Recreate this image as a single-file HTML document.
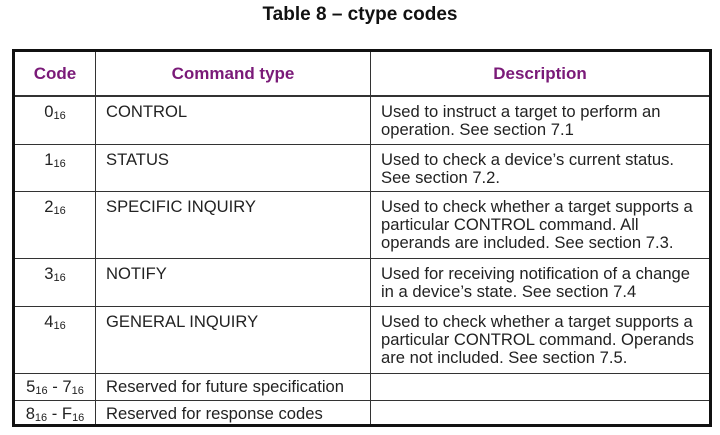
<!DOCTYPE html>
<html><head><style>
body{margin:0;width:720px;height:435px;background:#fff;font-family:"Liberation Sans",Arial,sans-serif;position:relative;overflow:hidden;color:#222}
.t{position:absolute;top:4px;left:0;width:720px;text-align:center;font-weight:bold;font-size:19px;color:#111}
table{position:absolute;left:12px;top:49px;border-collapse:collapse;border:3px solid #111;font-size:16.6px}
td,th{border:1px solid #333;padding:0;vertical-align:top;line-height:18px}
th{color:#7a1a78;font-size:17px;height:43px;vertical-align:middle;border-bottom:2px solid #333}
td.c{text-align:center;padding-top:6px}
td.n{padding:6px 0 0 10px}
td.d{padding:6px 0 0 10px}
sub{font-size:11px;vertical-align:-2px;line-height:0}
</style></head><body>
<div class="t">Table 8 – ctype codes</div>
<table>
<colgroup><col style="width:82px"><col style="width:275px"><col style="width:340px"></colgroup>
<tr><th>Code</th><th>Command type</th><th>Description</th></tr>
<tr style="height:48px"><td class="c">0<sub>16</sub></td><td class="n">CONTROL</td><td class="d">Used to instruct a target to perform an<br>operation. See section 7.1</td></tr>
<tr style="height:47px"><td class="c">1<sub>16</sub></td><td class="n">STATUS</td><td class="d">Used to check a device’s current status.<br>See section 7.2.</td></tr>
<tr style="height:67px"><td class="c">2<sub>16</sub></td><td class="n">SPECIFIC INQUIRY</td><td class="d">Used to check whether a target supports a<br>particular CONTROL command. All<br>operands are included. See section 7.3.</td></tr>
<tr style="height:48px"><td class="c">3<sub>16</sub></td><td class="n">NOTIFY</td><td class="d">Used for receiving notification of a change<br>in a device’s state. See section 7.4</td></tr>
<tr style="height:67px"><td class="c">4<sub>16</sub></td><td class="n">GENERAL INQUIRY</td><td class="d">Used to check whether a target supports a<br>particular CONTROL command. Operands<br>are not included. See section 7.5.</td></tr>
<tr style="height:27px"><td class="c" style="padding-top:4px">5<sub>16</sub> - 7<sub>16</sub></td><td class="n" style="padding-top:4px">Reserved for future specification</td><td></td></tr>
<tr style="height:25px"><td class="c" style="padding-top:4px">8<sub>16</sub> - F<sub>16</sub></td><td class="n" style="padding-top:4px">Reserved for response codes</td><td></td></tr>
</table>
</body></html>
